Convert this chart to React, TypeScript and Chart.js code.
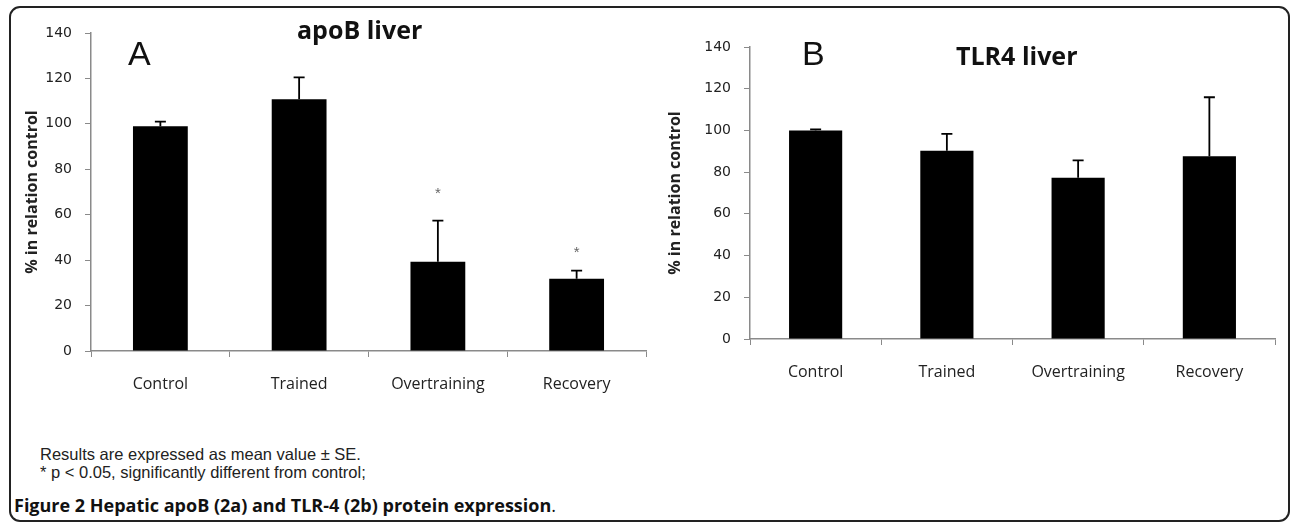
import React, { useEffect, useRef } from "react";
import { Chart, registerables } from "chart.js";

Chart.register(...registerables);

const categories = ["Control", "Trained", "Overtraining", "Recovery"];
const apoBValues = [99, 110.8, 39.3, 31.8];
const apoBErrors = [2, 9.7, 18.1, 3.6];
const apoBStars = [null, null, 69, 43];
const tlr4Values = [100, 90.3, 77.3, 87.6];
const tlr4Errors = [0.5, 8, 8.3, 28.3];
const tlr4Stars = [null, null, null, null];
const yTickValues = [0, 20, 40, 60, 80, 100, 120, 140];

const errorBarPlugin = {
  id: "errorBars",
  afterDatasetsDraw(chart: any, _args: any, opts: any) {
    const { ctx } = chart;
    const y = chart.scales.y;
    const meta = chart.getDatasetMeta(0);
    const vals = chart.data.datasets[0].data as number[];
    ctx.save();
    meta.data.forEach((bar: any, i: number) => {
      const top = y.getPixelForValue(vals[i] + opts.errors[i]);
      ctx.strokeStyle = "#000";
      ctx.lineWidth = 1.8;
      ctx.beginPath();
      ctx.moveTo(bar.x, bar.y);
      ctx.lineTo(bar.x, top);
      ctx.moveTo(bar.x - 5.5, top);
      ctx.lineTo(bar.x + 5.5, top);
      ctx.stroke();
      if (opts.stars[i] != null) {
        ctx.fillStyle = "#666";
        ctx.font = "15px 'Liberation Sans'";
        ctx.textAlign = "center";
        ctx.textBaseline = "middle";
        ctx.fillText("*", bar.x, y.getPixelForValue(opts.stars[i]));
      }
    });
    ctx.restore();
  },
};

type Geo = {
  yAxisWidth: number;
  xAxisHeight: number;
  padTop: number;
  padRight: number;
  titlePad: number;
  barPct: number;
};

function makeConfig(values: number[], errors: number[], stars: (number | null)[], g: Geo): any {
  return {
    type: "bar",
    data: {
      labels: categories,
      datasets: [
        {
          data: values,
          backgroundColor: "#000",
          borderWidth: 0,
          categoryPercentage: 1,
          barPercentage: g.barPct,
        },
      ],
    },
    plugins: [errorBarPlugin],
    options: {
      animation: false,
      responsive: true,
      maintainAspectRatio: false,
      layout: { padding: { top: g.padTop, right: g.padRight, left: 0, bottom: 0 } },
      plugins: {
        legend: { display: false },
        tooltip: { enabled: false },
        errorBars: { errors, stars },
      },
      scales: {
        x: {
          afterFit: (s: any) => {
            s.height = g.xAxisHeight;
          },
          grid: {
            display: true,
            drawOnChartArea: false,
            drawTicks: true,
            tickLength: 6,
            color: "#8a8a8a",
            offset: true,
          },
          border: { display: true, color: "#8a8a8a", width: 1.5 },
          ticks: {
            color: "#222",
            font: { family: "'Open Sans'", size: 16 },
            padding: 18,
            maxRotation: 0,
          },
        },
        y: {
          min: yTickValues[0],
          max: yTickValues[yTickValues.length - 1],
          afterFit: (s: any) => {
            s.width = g.yAxisWidth;
          },
          afterBuildTicks: (s: any) => {
            s.ticks = yTickValues.map((v) => ({ value: v }));
          },
          grid: {
            display: true,
            drawOnChartArea: false,
            drawTicks: true,
            tickLength: 6,
            color: "#8a8a8a",
          },
          border: { display: true, color: "#8a8a8a", width: 1.5 },
          ticks: {
            color: "#222",
            font: { family: "'DejaVu Sans'", size: 14 },
            padding: 13,
          },
          title: {
            display: true,
            text: "% in relation control",
            color: "#222",
            font: { family: "'Open Sans'", size: 16, weight: "bold" },
            padding: { top: g.titlePad, bottom: 0 },
          },
        },
      },
    },
  };
}

function BarChart(props: { values: number[]; errors: number[]; stars: (number | null)[]; geo: Geo }) {
  const ref = useRef<HTMLCanvasElement | null>(null);
  useEffect(() => {
    if (!ref.current) return;
    const chart = new Chart(ref.current, makeConfig(props.values, props.errors, props.stars, props.geo));
    return () => chart.destroy();
  }, []);
  return <canvas ref={ref} />;
}

const abs = (l: number, t: number, extra: React.CSSProperties = {}): React.CSSProperties => ({
  position: "absolute",
  left: l,
  top: t,
  whiteSpace: "nowrap",
  lineHeight: 1,
  ...extra,
});

export default function App() {
  return (
    <div style={{ position: "absolute", left: 0, top: 0, width: 1290, height: 522, background: "#fff", overflow: "hidden" }}>
      <div
        style={{
          position: "absolute",
          left: 9,
          top: 6,
          width: 1281,
          height: 516,
          border: "2px solid #222",
          borderRadius: 11,
          boxSizing: "border-box",
        }}
      />
      <div style={{ position: "absolute", left: 0, top: 0, width: 650, height: 420 }}>
        <BarChart
          values={apoBValues}
          errors={apoBErrors}
          stars={apoBStars}
          geo={{ yAxisWidth: 91, xAxisHeight: 69, padTop: 33, padRight: 4, titlePad: 23, barPct: 0.395 }}
        />
      </div>
      <div style={{ position: "absolute", left: 650, top: 0, width: 640, height: 420 }}>
        <BarChart
          values={tlr4Values}
          errors={tlr4Errors}
          stars={tlr4Stars}
          geo={{ yAxisWidth: 100, xAxisHeight: 81, padTop: 47, padRight: 15, titlePad: 16, barPct: 0.405 }}
        />
      </div>
      <div style={abs(128, 36, { fontFamily: "'Liberation Sans'", fontSize: 34, color: "#111" })}>A</div>
      <div style={abs(802, 36, { fontFamily: "'Liberation Sans'", fontSize: 34, color: "#111" })}>B</div>
      <div style={abs(297, 17, { fontFamily: "'Open Sans'", fontSize: 25, fontWeight: 700, color: "#111" })}>apoB liver</div>
      <div style={abs(956, 43, { fontFamily: "'Open Sans'", fontSize: 25, fontWeight: 700, color: "#111" })}>TLR4 liver</div>
      <div style={abs(40, 446, { fontFamily: "'Liberation Sans'", fontSize: 16.5, color: "#222" })}>
        Results are expressed as mean value ± SE.
      </div>
      <div style={abs(40, 464, { fontFamily: "'Liberation Sans'", fontSize: 16.5, color: "#222" })}>
        * p &lt; 0.05, significantly different from control;
      </div>
      <div style={abs(14, 496, { fontFamily: "'Open Sans'", fontSize: 18, color: "#111" })}>
        <span style={{ fontWeight: 700 }}>Figure 2 Hepatic apoB (2a) and TLR-4 (2b) protein expression</span>.
      </div>
    </div>
  );
}
